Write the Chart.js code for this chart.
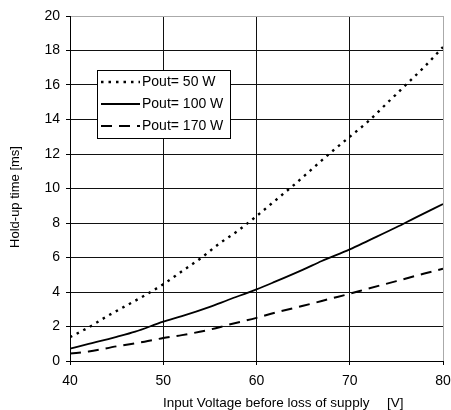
<!DOCTYPE html>
<html>
<head>
<meta charset="utf-8">
<script src="https://cdn.jsdelivr.net/npm/chart.js@4"></script>
<style>
	html, body { margin: 0; padding: 0; background: #fff; }
	#wrap { width: 451px; height: 410px; }
</style>
</head>
<body>
<div id="wrap"><canvas id="holdChart" width="451" height="410"></canvas></div>
<script>
// values
const voltage50 = [40, 42, 44, 46, 48, 50, 52, 54, 56, 58, 60, 62, 64, 66, 68, 70, 72, 74, 76, 78, 80];
const hold50 = [1.38, 1.95, 2.6, 3.2, 3.8, 4.45, 5.2, 5.95, 6.8, 7.55, 8.4, 9.3, 10.2, 11.15, 12.1, 13.0, 13.9, 14.95, 16.0, 17.05, 18.2];

const voltage100 = [40, 42, 45, 47, 50, 52, 55, 57, 60, 62, 65, 67, 70, 72, 75, 77, 80];
const hold100 = [0.72, 0.99, 1.4, 1.7, 2.28, 2.6, 3.14, 3.55, 4.15, 4.6, 5.3, 5.8, 6.47, 6.98, 7.75, 8.3, 9.1];

const voltage170 = [40, 42, 45, 48, 50, 52, 55, 57, 60, 62, 65, 68, 70, 72, 75, 78, 80];
const hold170 = [0.43, 0.55, 0.85, 1.12, 1.33, 1.5, 1.82, 2.1, 2.5, 2.8, 3.2, 3.62, 3.9, 4.2, 4.63, 5.07, 5.35];

const seriesLabels = ["Pout= 50 W", "Pout= 100 W", "Pout= 170 W"];
const xTicks = [40, 50, 60, 70, 80];
const yTicks = [0, 2, 4, 6, 8, 10, 12, 14, 16, 18, 20];

const FONT = "'Liberation Sans', Arial, sans-serif";

function toPoints(xs, ys) {
	return xs.map((x, i) => ({ x: x, y: ys[i] }));
}

const dashes = [[2.5, 5], [], [11, 7]];

const holdData = {
	datasets: [
		{ label: seriesLabels[0], data: toPoints(voltage50, hold50), borderDash: dashes[0], borderWidth: 2.4 },
		{ label: seriesLabels[1], data: toPoints(voltage100, hold100), borderDash: dashes[1], borderWidth: 1.8 },
		{ label: seriesLabels[2], data: toPoints(voltage170, hold170), borderDash: dashes[2], borderWidth: 2 }
	].map(d => Object.assign(d, {
		borderColor: "#000",
		pointRadius: 0,
		cubicInterpolationMode: "monotone",
		fill: false
	}))
};

// legend box + axis titles drawn inside the canvas
const extrasPlugin = {
	id: "extras",
	afterDraw(chart) {
		const ctx = chart.ctx;
		ctx.save();

		// legend
		const bx = 97, by = 70, bw = 133, bh = 68;
		ctx.fillStyle = "#fff";
		ctx.fillRect(bx, by, bw, bh);
		ctx.strokeStyle = "#000";
		ctx.lineWidth = 1;
		ctx.setLineDash([]);
		ctx.strokeRect(bx + 0.5, by + 0.5, bw, bh);
		ctx.font = "14px " + FONT;
		ctx.textBaseline = "middle";
		ctx.fillStyle = "#000";
		const rows = [82, 104, 126];
		const widths = [2.4, 1.8, 2];
		seriesLabels.forEach((lab, i) => {
			ctx.beginPath();
			ctx.setLineDash(dashes[i]);
			ctx.lineWidth = widths[i];
			ctx.moveTo(101, rows[i]);
			ctx.lineTo(140, rows[i]);
			ctx.stroke();
			ctx.fillText(lab, 142, rows[i]);
		});
		ctx.setLineDash([]);

		// axis titles
		ctx.font = "13.5px " + FONT;
		ctx.textAlign = "left";
		ctx.fillText("Input Voltage before loss of supply", 163, 403);
		ctx.fillText("[V]", 387, 403);
		ctx.font = "13px " + FONT;
		ctx.textAlign = "center";
		ctx.translate(15, 197);
		ctx.rotate(-Math.PI / 2);
		ctx.fillText("Hold-up time [ms]", 0, 0);
		ctx.restore();
	}
};

const holdConfig = {
	type: "line",
	data: holdData,
	plugins: [extrasPlugin],
	options: {
		responsive: false,
		animation: false,
		layout: { autoPadding: false, padding: { top: 16, right: 8, left: 0, bottom: 0 } },
		plugins: {
			legend: { display: false },
			tooltip: { enabled: false }
		},
		scales: {
			x: {
				type: "linear",
				min: 40,
				max: 80,
				afterBuildTicks: scale => { scale.ticks = xTicks.map(v => ({ value: v })); },
				afterFit: scale => { scale.height = 49; scale.paddingLeft = 0; scale.paddingRight = 0; },
				ticks: { color: "#000", font: { family: FONT, size: 14 }, padding: 8, maxRotation: 0 },
				grid: {
					color: ctx => (ctx.tick && ctx.tick.value === 80 ? "#aaa" : "#111"),
					lineWidth: 1,
					tickLength: 4,
					tickColor: "#000"
				},
				border: { color: "#000", width: 1 }
			},
			y: {
				min: 0,
				max: 20,
				afterBuildTicks: scale => { scale.ticks = yTicks.map(v => ({ value: v })); },
				afterFit: scale => { scale.width = 70; scale.paddingTop = 0; scale.paddingBottom = 0; },
				ticks: { color: "#000", font: { family: FONT, size: 14 }, padding: 6 },
				grid: {
					color: ctx => (ctx.tick && ctx.tick.value === 20 ? "#aaa" : "#111"),
					lineWidth: 1,
					tickLength: 4,
					tickColor: "#000"
				},
				border: { color: "#000", width: 1 }
			}
		}
	}
};

const holdChart = new Chart(document.getElementById("holdChart"), holdConfig);
</script>
</body>
</html>
